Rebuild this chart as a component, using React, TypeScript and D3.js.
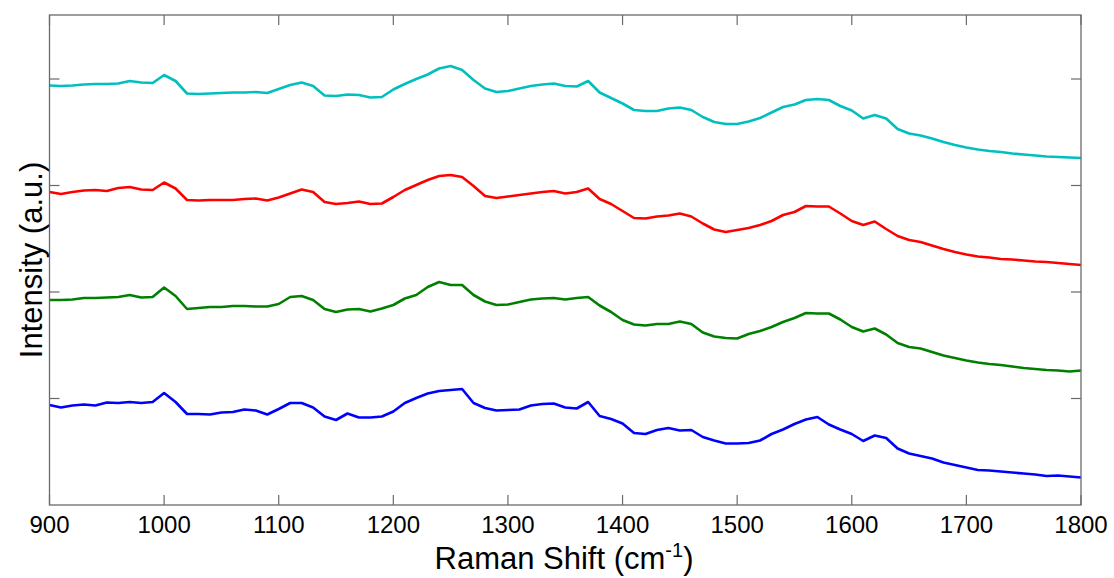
import React from "react";
import * as d3 from "d3";

// Raman shift grid (cm^-1)
const shifts: number[] = d3.range(900, 1801, 10);

// Intensities (a.u., stacked/offset spectra)
const spectrumCyan: number[] = [
  419.5, 419, 419.5, 420.5, 421, 421, 421.5, 424, 422.5, 422,
  430, 424, 411.5, 411, 411.5, 412, 412.5, 412.5, 413, 412,
  416, 420, 422.5, 419, 409.5, 409, 410.5, 410, 407.5, 408,
  415.5, 421, 426, 430.5, 436.5, 439, 435, 425, 416.5, 413,
  414, 416.5, 419, 420.5, 421.5, 419, 418.5, 424, 412.5, 407,
  401.5, 395, 394, 394, 396.5, 397.5, 395, 388, 383, 381,
  381, 383.5, 387, 392.5, 398, 400.5, 405, 406, 405, 399,
  394.5, 386.5, 390, 386.5, 376, 371.5, 369.5, 366.5, 363, 360,
  357.5, 355.5, 354, 353, 351.5, 350.5, 349.5, 348.5, 348, 347.5,
  347,
];

const spectrumRed: number[] = [
  313, 311, 313, 314.5, 315, 314, 317, 318, 315.5, 315,
  322.5, 316.5, 305, 304.5, 305, 305, 305, 306, 306.5, 304.5,
  307.5, 311.5, 315.5, 313, 303, 301, 302, 303.5, 301, 301.5,
  308, 315, 320, 325, 329, 330, 328, 319, 309, 307,
  308.5, 310, 311.5, 313, 314, 311.5, 313, 316.5, 306, 301,
  294, 287, 286.5, 288.5, 289.5, 291.5, 288.5, 281.5, 275.5, 273,
  275, 277, 280, 284, 290, 293, 299, 298.5, 298.5, 291.5,
  284, 280, 283.5, 276, 269, 265, 263, 259.5, 256, 253,
  250.5, 248.5, 247.5, 246, 245.5, 244.5, 243.5, 243, 242, 241,
  240,
];

const spectrumGreen: number[] = [
  205, 205, 205.5, 207, 207, 207.5, 208, 210, 207.5, 208,
  217.5, 209, 196, 197, 198, 198, 199, 199, 198.5, 198.5,
  201, 208, 209, 205, 196, 193, 195.5, 196, 193.5, 196.5,
  200, 206.5, 210, 218, 223, 220, 220, 210, 203.5, 200,
  200.5, 203, 205.5, 206.5, 207, 205.5, 207, 208, 199.5, 193,
  185, 180.5, 179.5, 181, 181, 183.5, 181, 172.5, 168.5, 167,
  166.5, 171, 174, 178, 183, 187, 192, 191.5, 191.5, 185.5,
  178, 173.5, 176.5, 170.5, 162, 158, 156.5, 153, 149.5, 147,
  144.5, 142.5, 141, 140, 138.5, 137, 136, 135, 134.5, 133.5,
  134.5,
];

const spectrumBlue: number[] = [
  100, 97.5, 99.5, 100.5, 99.5, 102.5, 102, 103, 102, 103,
  112, 103, 91, 91, 90.5, 92.5, 93, 95.5, 94.5, 90.5,
  96, 102, 102, 97.5, 88.5, 85, 91.5, 87.5, 87.5, 88.5,
  93.5, 102, 107, 111.5, 114, 115, 116, 102, 97, 94.5,
  95, 95.5, 99.5, 101, 101.5, 97.5, 96.5, 103, 89, 86,
  81.5, 72, 71, 75, 77, 74.5, 75, 68, 64.5, 61.5,
  61.5, 62, 64.5, 71, 75.5, 81, 85.5, 88, 80.5, 75.5,
  71, 64, 69.5, 67, 56.5, 51.5, 49, 46.5, 42.5, 40,
  37.5, 35, 34.5, 33.5, 32.5, 31.5, 30.5, 29, 29.5, 28.5,
  27.5,
];

const seriesNames = ["cyan", "red", "green", "blue"];
const seriesColors = ["#00BFBF", "#FF0000", "#008000", "#0000FF"];
const seriesValues = [spectrumCyan, spectrumRed, spectrumGreen, spectrumBlue];

const xTicks = [900, 1000, 1100, 1200, 1300, 1400, 1500, 1600, 1700, 1800];
const yTicks = [106.5, 213, 319.5, 426];

const W = 1114;
const H = 578;
const M = { left: 49.5, right: 1081, top: 15, bottom: 505 };

export default function App() {
  const x = d3.scaleLinear().domain([900, 1800]).range([M.left, M.right]);
  const y = d3.scaleLinear().domain([0, 490]).range([M.bottom, M.top]);
  const line = d3
    .line<number>()
    .x((_, i) => x(shifts[i]))
    .y((d) => y(d));

  const axisColor = "#6a6a6a";
  const tickLen = 10;
  const font = "Arial, 'Liberation Sans', Helvetica, sans-serif";

  return (
    <svg
      width={W}
      height={H}
      style={{ position: "absolute", left: 0, top: 0, background: "#fff" }}
    >
      <rect x={0} y={0} width={W} height={H} fill="#fff" />
      {seriesValues.map((vals, k) => (
        <path
          key={seriesNames[k]}
          d={line(vals) || ""}
          fill="none"
          stroke={seriesColors[k]}
          strokeWidth={2.6}
          strokeLinejoin="round"
        />
      ))}
      <rect
        x={M.left}
        y={M.top}
        width={M.right - M.left}
        height={M.bottom - M.top}
        fill="none"
        stroke={axisColor}
        strokeWidth={1.3}
      />
      {xTicks.map((t) => (
        <g key={"xt" + t}>
          <line x1={x(t)} x2={x(t)} y1={M.bottom} y2={M.bottom - tickLen} stroke={axisColor} strokeWidth={1.2} />
          <line x1={x(t)} x2={x(t)} y1={M.top} y2={M.top + tickLen} stroke={axisColor} strokeWidth={1.2} />
          <text
            x={x(t)}
            y={533}
            textAnchor="middle"
            fontFamily={font}
            fontSize={24}
            fill="#000"
          >
            {t}
          </text>
        </g>
      ))}
      {yTicks.map((t) => (
        <g key={"yt" + t}>
          <line x1={M.left} x2={M.left + tickLen} y1={y(t)} y2={y(t)} stroke={axisColor} strokeWidth={1.2} />
          <line x1={M.right} x2={M.right - tickLen} y1={y(t)} y2={y(t)} stroke={axisColor} strokeWidth={1.2} />
        </g>
      ))}
      <text
        x={564}
        y={569}
        textAnchor="middle"
        fontFamily={font}
        fontSize={31}
        fill="#000"
      >
        Raman Shift (cm
        <tspan dy={-12} fontSize={20}>-1</tspan>
        <tspan dy={12}>)</tspan>
      </text>
      <text
        transform={`translate(42, 260) rotate(-90)`}
        textAnchor="middle"
        fontFamily={font}
        fontSize={31}
        fill="#000"
      >
        Intensity (a.u.)
      </text>
    </svg>
  );
}
